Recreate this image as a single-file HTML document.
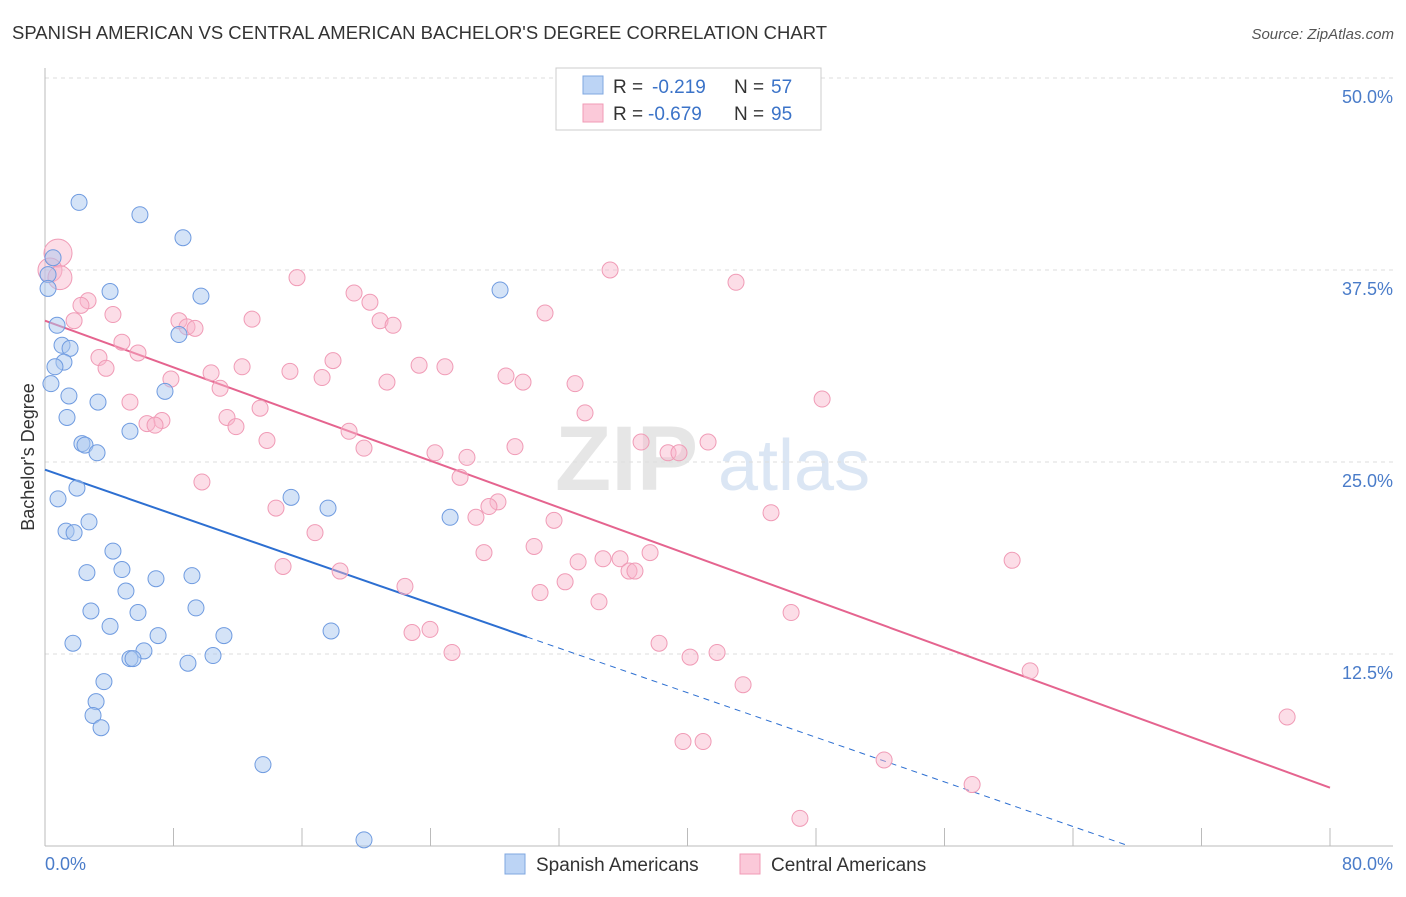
<!DOCTYPE html>
<html><head><meta charset="utf-8">
<style>
body{margin:0;background:#fff;font-family:"Liberation Sans",sans-serif;}
svg text{font-family:"Liberation Sans",sans-serif;}
</style></head>
<body>
<svg id="chart" width="1406" height="892" xmlns="http://www.w3.org/2000/svg">
<text x="12" y="39" font-size="18" fill="#333" textLength="815" lengthAdjust="spacingAndGlyphs">SPANISH AMERICAN VS CENTRAL AMERICAN BACHELOR'S DEGREE CORRELATION CHART</text>
<text x="1394" y="39" font-size="15" fill="#555" text-anchor="end" font-style="italic">Source: ZipAtlas.com</text>
<g>
<text x="555" y="490" font-size="92" fill="#e6e6e6" font-family="Liberation Serif" font-weight="bold">ZIP</text>
<text x="718" y="490" font-size="72" fill="#dbe6f4">atlas</text>
</g>
<g id="grid"></g>
<g id="axes"></g>
<g id="lines"></g>
<g id="points"></g>
<text transform="translate(34,457) rotate(-90)" font-size="18" fill="#333" text-anchor="middle">Bachelor's Degree</text>
<text x="45" y="870" font-size="18" fill="#4a7cc9">0.0%</text>
<text x="1393" y="870" font-size="18" fill="#4a7cc9" text-anchor="end">80.0%</text>
<g>
<rect x="556" y="68" width="265" height="62" fill="#fff" stroke="#ccc"/>
<rect x="583" y="76" width="20" height="18" fill="#bcd4f5" stroke="#7fa7e0"/>
<rect x="583" y="104" width="20" height="18" fill="#fbc9d9" stroke="#f09bb6"/>
<text x="613" y="93" font-size="19" fill="#333">R =</text>
<text x="652" y="93" font-size="19" fill="#3b73c8">-0.219</text>
<text x="734" y="93" font-size="19" fill="#333">N =</text>
<text x="771" y="93" font-size="19" fill="#3b73c8">57</text>
<text x="613" y="120" font-size="19" fill="#333">R =</text>
<text x="648" y="120" font-size="19" fill="#3b73c8">-0.679</text>
<text x="734" y="120" font-size="19" fill="#333">N =</text>
<text x="771" y="120" font-size="19" fill="#3b73c8">95</text>
</g>
<g>
<rect x="505" y="854" width="20" height="20" fill="#bcd4f5" stroke="#7fa7e0"/>
<text x="536" y="871" font-size="19" fill="#333">Spanish Americans</text>
<rect x="740" y="854" width="20" height="20" fill="#fbc9d9" stroke="#f09bb6"/>
<text x="771" y="871" font-size="19" fill="#333">Central Americans</text>
</g>
</svg>
<script>
const blueX=[2.12,5.91,8.59,0.5,0.19,0.19,4.05,9.71,28.33,0.75,8.34,1.06,1.56,1.18,0.62,0.37,7.47,1.49,3.3,1.37,5.29,2.3,2.49,3.24,15.32,17.62,25.22,1.99,0.81,2.74,1.31,1.81,4.23,4.79,2.61,6.91,9.15,5.04,2.86,5.79,9.4,4.05,17.81,7.04,11.14,1.74,6.16,5.29,5.48,10.46,8.9,3.67,3.18,2.99,3.49,13.57,19.86];
const blueY=[41.9,41.1,39.6,38.3,37.2,36.3,36.1,35.8,36.2,33.9,33.3,32.6,32.4,31.5,31.2,30.1,29.6,29.3,28.9,27.9,27.0,26.2,26.1,25.6,22.7,22.0,21.4,23.3,22.6,21.1,20.5,20.4,19.2,18.0,17.8,17.4,17.6,16.6,15.3,15.2,15.5,14.3,14.0,13.7,13.7,13.2,12.7,12.2,12.2,12.4,11.9,10.7,9.4,8.5,7.7,5.3,0.4];
const pinkX=[0.81,0.31,0.93,15.69,35.18,43.02,19.24,2.68,20.23,2.24,4.23,31.13,12.89,1.81,8.34,20.86,21.67,8.84,9.34,4.79,5.79,3.36,23.29,24.9,12.27,17.93,3.8,15.25,10.34,17.25,28.7,7.84,29.76,21.29,33.0,10.9,48.38,5.29,13.39,33.62,11.33,7.28,6.35,6.85,11.89,18.93,13.82,37.11,41.28,29.26,38.79,39.47,19.86,24.28,26.27,9.77,25.84,14.38,28.2,27.64,45.2,26.83,31.69,16.81,30.45,27.33,60.21,33.19,34.74,35.8,37.67,14.82,18.37,36.36,36.73,32.38,22.41,30.82,34.49,46.45,23.97,22.85,38.23,25.34,41.84,40.16,61.33,43.46,77.33,39.72,40.97,52.24,57.72,47.0];
const pinkY=[38.6,37.5,37.0,37.0,37.5,36.7,36.0,35.5,35.4,35.2,34.6,34.7,34.3,34.2,34.2,34.2,33.9,33.8,33.7,32.8,32.1,31.8,31.3,31.2,31.2,31.6,31.1,30.9,30.8,30.5,30.6,30.4,30.2,30.2,30.1,29.8,29.1,28.9,28.5,28.2,27.9,27.7,27.5,27.4,27.3,27.0,26.4,26.3,26.3,26.0,25.6,25.6,25.9,25.6,25.3,23.7,24.0,22.0,22.4,22.1,21.7,21.4,21.2,20.4,19.5,19.1,18.6,18.5,18.7,18.7,19.1,18.2,17.9,17.9,17.9,17.2,16.9,16.5,15.9,15.2,14.1,13.9,13.2,12.6,12.6,12.3,11.4,10.5,8.4,6.8,6.8,5.6,4.0,1.8];
const pinkSize=[14,12,12];
const yTicks=[12.5,25,37.5,50];
const yTickLabels=["12.5%","25.0%","37.5%","50.0%"];
const xTicks=[0,8,16,24,32,40,48,56,64,72,80];
const blueLine=[24.5,-0.363];
const pinkLine=[34.2,-0.38];
const blueSolidEnd=30;
const blueDashEnd=67.5;

const NS="http://www.w3.org/2000/svg";
const X=v=>45+v/80*1285;
const Y=v=>846-v/50*768;
function mk(parent,tag,attrs){const e=document.createElementNS(NS,tag);for(const k in attrs)e.setAttribute(k,attrs[k]);document.getElementById(parent).appendChild(e);return e;}
yTicks.forEach((t,i)=>{
  const g=mk('grid','line',{x1:45,x2:1393,y1:Y(t),y2:Y(t),stroke:'#ddd','stroke-dasharray':'4,4'});
  
  
  const l=mk('grid','text',{x:1393,y:Y(t)+25,'font-size':18,fill:'#4a7cc9','text-anchor':'end'});
  l.textContent=yTickLabels[i];
  
  
});
const ya=mk('axes','line',{x1:45,x2:45,y1:68,y2:846,stroke:'#bbb'});


const xa=mk('axes','line',{x1:45,x2:1393,y1:846,y2:846,stroke:'#bbb'});


xTicks.forEach(t=>{
  const k=mk('axes','line',{x1:X(t),x2:X(t),y1:828,y2:846,stroke:'#bbb'});
  
  
});
const bl=mk('lines','line',{x1:X(0),y1:Y(blueLine[0]),x2:X(blueSolidEnd),y2:Y(blueLine[0]+blueLine[1]*blueSolidEnd),stroke:'#2d6fd1','stroke-width':2});


const bd=mk('lines','line',{x1:X(blueSolidEnd),y1:Y(blueLine[0]+blueLine[1]*blueSolidEnd),x2:X(blueDashEnd),y2:Y(blueLine[0]+blueLine[1]*blueDashEnd),stroke:'#2d6fd1','stroke-width':1,'stroke-dasharray':'6,5'});


const pl=mk('lines','line',{x1:X(0),y1:Y(pinkLine[0]),x2:X(80),y2:Y(pinkLine[0]+pinkLine[1]*80),stroke:'#e5648f','stroke-width':2});


pinkX.forEach((x,i)=>{
  const c=mk('points','circle',{cx:X(x),cy:Y(pinkY[i]),r:pinkSize[i]||8,fill:'rgba(248,180,202,0.45)',stroke:'#f09bb6','stroke-width':1});
  
  
});
blueX.forEach((x,i)=>{
  const c=mk('points','circle',{cx:X(x),cy:Y(blueY[i]),r:8,fill:'rgba(170,200,240,0.5)',stroke:'#6f9be0','stroke-width':1});
  
  
});
</script>
</body></html>
